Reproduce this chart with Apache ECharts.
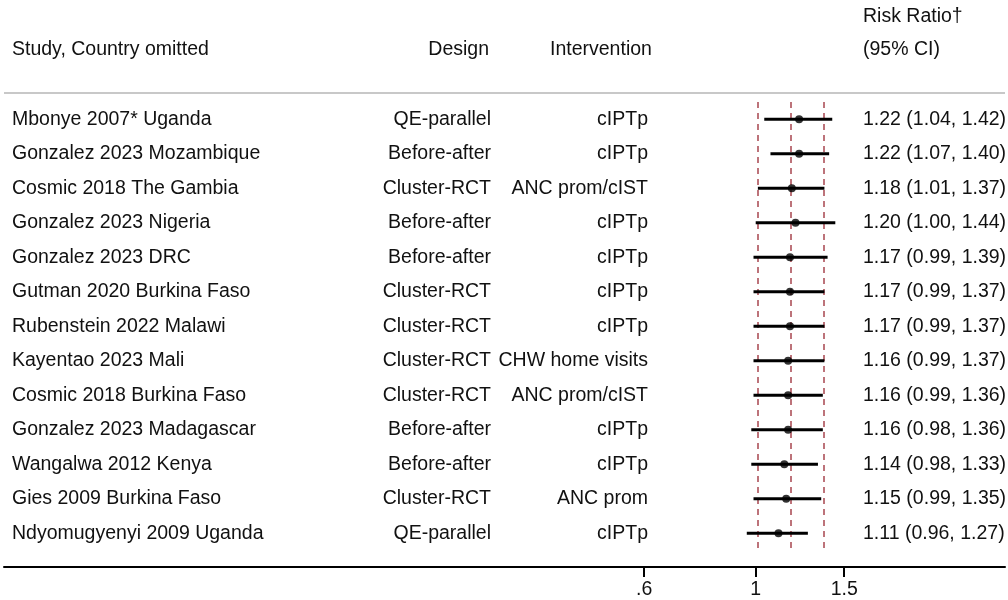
<!DOCTYPE html>
<html><head><meta charset="utf-8">
<script src="https://cdn.jsdelivr.net/npm/echarts@6/dist/echarts.min.js"></script>
<style>html,body{margin:0;padding:0;background:#fff}#c{width:1008px;height:600px}</style>
</head><body><div id="c"></div>
<script>
const studies = [
  'Mbonye 2007* Uganda','Gonzalez 2023 Mozambique','Cosmic 2018 The Gambia','Gonzalez 2023 Nigeria',
  'Gonzalez 2023 DRC','Gutman 2020 Burkina Faso','Rubenstein 2022 Malawi','Kayentao 2023 Mali',
  'Cosmic 2018 Burkina Faso','Gonzalez 2023 Madagascar','Wangalwa 2012 Kenya','Gies 2009 Burkina Faso',
  'Ndyomugyenyi 2009 Uganda'
];
const designs = ['QE-parallel','Before-after','Cluster-RCT','Before-after','Before-after','Cluster-RCT',
  'Cluster-RCT','Cluster-RCT','Cluster-RCT','Before-after','Before-after','Cluster-RCT','QE-parallel'];
const interventions = ['cIPTp','cIPTp','ANC prom/cIST','cIPTp','cIPTp','cIPTp','cIPTp','CHW home visits',
  'ANC prom/cIST','cIPTp','cIPTp','ANC prom','cIPTp'];
const rr    = [1.22, 1.22, 1.18, 1.20, 1.17, 1.17, 1.17, 1.16, 1.16, 1.16, 1.14, 1.15, 1.11];
const lower = [1.04, 1.07, 1.01, 1.00, 0.99, 0.99, 0.99, 0.99, 0.99, 0.98, 0.98, 0.99, 0.96];
const upper = [1.42, 1.40, 1.37, 1.44, 1.39, 1.37, 1.37, 1.37, 1.36, 1.36, 1.33, 1.35, 1.27];
const pooledLines = [1.01, 1.17, 1.36];
const tickValues = [0.6, 1, 1.5];
const tickLabels = ['.6', '1', '1.5'];

const FONT = '"Liberation Sans", Arial, sans-serif';
const FS = 19.5;
const TXT = '#111';
const ln = Math.log;
const rrText = rr.map((v, i) => v.toFixed(2) + ' (' + lower[i].toFixed(2) + ', ' + upper[i].toFixed(2) + ')');

const chart = echarts.init(document.getElementById('c'), null, {renderer: 'canvas'});

function textColumn(texts, x, align) {
  return {
    type: 'custom', silent: true, clip: false, z: 5,
    data: texts.map((t, i) => [0, i]),
    encode: {x: 0, y: 1},
    renderItem: (params, api) => {
      const i = params.dataIndex;
      const y = api.coord([0, i])[1];
      return {type: 'text', style: {text: texts[i], x: x, y: y, align: align, verticalAlign: 'middle',
        fontSize: FS, fontFamily: FONT, fill: TXT}};
    }
  };
}

function hdr(text, x, y, align) {
  return {type: 'text', silent: true, style: {text: text, x: x, y: y, align: align, verticalAlign: 'middle',
    fontSize: FS, fontFamily: FONT, fill: TXT}};
}

const option = {
  animation: false,
  backgroundColor: '#fff',
  grid: {left: 4, right: 3, top: 102, bottom: 49.5},
  xAxis: {
    type: 'value', min: -3.4434, max: 1.1420, offset: 16.5,
    axisLine: {show: true, lineStyle: {color: '#000', width: 2}},
    axisTick: {show: true, customValues: tickValues.map(ln), length: 10, lineStyle: {color: '#000', width: 2}},
    axisLabel: {
      customValues: tickValues.map(ln), margin: 13, fontSize: FS, fontFamily: FONT, color: TXT,
      formatter: (v) => {
        for (let j = 0; j < tickValues.length; j++) if (Math.abs(ln(tickValues[j]) - v) < 1e-6) return tickLabels[j];
        return '';
      }
    },
    splitLine: {show: false}
  },
  yAxis: {
    type: 'category', inverse: true, data: studies,
    axisLine: {show: false}, axisTick: {show: false}, splitLine: {show: false},
    axisLabel: {inside: true, margin: 8, fontSize: FS, fontFamily: FONT, color: TXT}
  },
  graphic: [
    {type: 'line', silent: true, shape: {x1: 4, y1: 93, x2: 1005, y2: 93}, style: {stroke: '#c8c8c8', lineWidth: 2}},
    hdr('Study, Country omitted', 12, 50, 'left'),
    hdr('Design', 489, 50, 'right'),
    hdr('Intervention', 550, 50, 'left'),
    hdr('Risk Ratio\u2020', 863, 17, 'left'),
    hdr('(95% CI)', 863, 50, 'left')
  ],
  series: [
    {
      type: 'line', data: [], z: 1, silent: true,
      markLine: {
        silent: true, symbol: ['none', 'none'], z: 1,
        label: {show: false},
        lineStyle: {color: '#a8454f', width: 1.5, type: [6, 5]},
        data: pooledLines.map(v => ({xAxis: ln(v)}))
      }
    },
    {
      type: 'custom', silent: true, z: 3,
      data: lower.map((lo, i) => [ln(lo), ln(upper[i]), i]),
      encode: {x: [0, 1], y: 2},
      renderItem: (params, api) => {
        const p1 = api.coord([api.value(0), api.value(2)]);
        const p2 = api.coord([api.value(1), api.value(2)]);
        return {type: 'line', shape: {x1: p1[0], y1: p1[1], x2: p2[0], y2: p2[1]},
          style: {stroke: '#000', lineWidth: 3}};
      }
    },
    {
      type: 'scatter', silent: true, z: 4, symbol: 'circle', symbolSize: 8,
      itemStyle: {color: '#000'},
      data: rr.map((v, i) => [ln(v), i])
    },
    textColumn(designs, 491, 'right'),
    textColumn(interventions, 648, 'right'),
    textColumn(rrText, 863, 'left')
  ]
};
chart.setOption(option);
</script>
</body></html>
